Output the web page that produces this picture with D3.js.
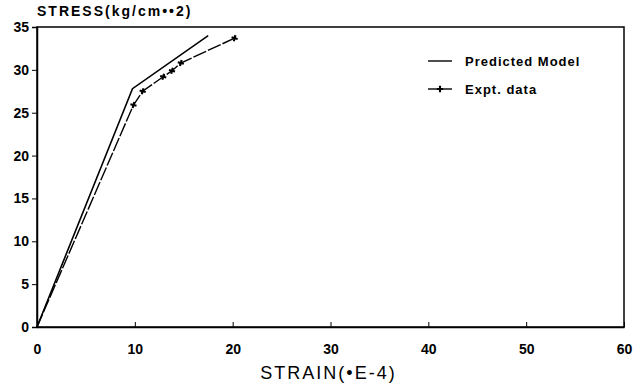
<!DOCTYPE html>
<html>
<head>
<meta charset="utf-8">
<script src="https://cdn.jsdelivr.net/npm/d3@7"></script>
<style>
  body { margin: 0; background: #fff; }
  svg text { font-family: "Liberation Sans", Arial, sans-serif; fill: #000; }
</style>
</head>
<body>
<svg id="chart" width="644" height="385"></svg>
<script>
// data
const predStrain = [0, 9.76, 17.5];
const predStress = [0, 27.8, 34.0];
const exptStrain = [0, 9.86, 10.8, 12.9, 13.8, 14.7, 20.2];
const exptStress = [0, 25.9, 27.5, 29.2, 29.9, 30.8, 33.7];
const xTicks = [0, 10, 20, 30, 40, 50, 60];
const yTicks = [0, 5, 10, 15, 20, 25, 30, 35];
const legendLabels = ["Predicted Model", "Expt. data"];

const margin = { top: 27, right: 20, bottom: 58, left: 37 };
const width = 644 - margin.left - margin.right;
const height = 385 - margin.top - margin.bottom;

const svg = d3.select("#chart")
  .append("g")
  .attr("transform", `translate(${margin.left},${margin.top})`);

const x = d3.scaleLinear().domain([0, 60]).range([0, width]);
const y = d3.scaleLinear().domain([0, 35]).range([height, 0]);

// frame
svg.append("rect")
  .attr("width", width)
  .attr("height", height)
  .attr("fill", "none")
  .attr("stroke", "#000")
  .attr("stroke-width", 1.5);

// x axis: ticks inward
const xAxis = svg.append("g")
  .attr("transform", `translate(0,${height})`)
  .call(d3.axisBottom(x).tickValues(xTicks).tickSizeInner(-5).tickSizeOuter(0).tickPadding(17));
xAxis.select(".domain").attr("stroke-width", 1.5);
xAxis.selectAll("text").style("font-size", "14px").style("font-weight", "bold");

// y axis: ticks outward
const yAxis = svg.append("g")
  .call(d3.axisLeft(y).tickValues(yTicks).tickSize(5).tickPadding(3));
yAxis.select(".domain").attr("stroke-width", 1.5);
yAxis.selectAll("text").style("font-size", "14px").style("font-weight", "bold");

// axis titles
svg.append("text")
  .attr("x", 0)
  .attr("y", -11)
  .style("font-size", "14px")
  .style("font-weight", "bold")
  .style("letter-spacing", "2px")
  .text("STRESS(kg/cm\u2022\u20222)");

svg.append("text")
  .attr("x", width / 2 - 2)
  .attr("y", height + 52)
  .attr("text-anchor", "middle")
  .style("font-size", "18px")
  .style("letter-spacing", "2px")
  .text("STRAIN(\u2022E-4)");

const line = d3.line().x(d => x(d[0])).y(d => y(d[1]));

const predPts = predStrain.map((v, i) => [v, predStress[i]]);
const exptPts = exptStrain.map((v, i) => [v, exptStress[i]]);

svg.append("path")
  .datum(predPts)
  .attr("d", line)
  .attr("fill", "none")
  .attr("stroke", "#000")
  .attr("stroke-width", 1.6);

svg.append("path")
  .datum(exptPts)
  .attr("d", line)
  .attr("fill", "none")
  .attr("stroke", "#000")
  .attr("stroke-width", 1.4)
  .attr("stroke-dasharray", "14,2");

// "+" markers
const cross = d3.symbol().type(d3.symbolCross).size(22);
svg.selectAll(".mark")
  .data(exptPts.slice(1))
  .enter()
  .append("path")
  .attr("class", "mark")
  .attr("transform", d => `translate(${x(d[0])},${y(d[1])}) rotate(15)`)
  .attr("d", cross)
  .attr("fill", "#000");

// legend
const legend = svg.append("g").attr("transform", `translate(${428 - margin.left},${61 - margin.top})`);
legendLabels.forEach((label, i) => {
  const g = legend.append("g").attr("transform", `translate(0,${i * 28})`);
  g.append("line")
    .attr("x1", 0).attr("x2", 24)
    .attr("stroke", "#000").attr("stroke-width", 1.4);
  if (i === 1) {
    g.append("path").attr("transform", "translate(12,0)").attr("d", cross).attr("fill", "#000");
  }
  g.append("text")
    .attr("x", 37)
    .attr("y", 5)
    .style("font-size", "13px")
    .style("font-weight", "bold")
    .style("letter-spacing", "1px")
    .text(label);
});
</script>
</body>
</html>
